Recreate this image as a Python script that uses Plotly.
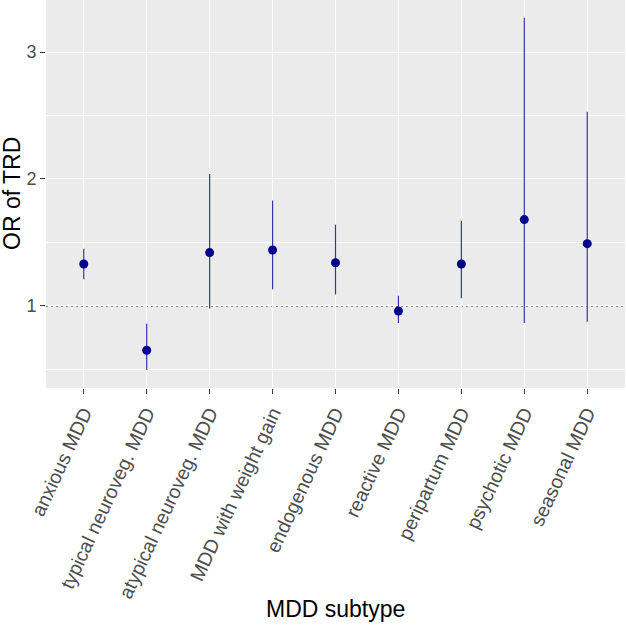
import plotly.graph_objects as go

subtypes = ["anxious MDD", "typical neuroveg. MDD", "atypical neuroveg. MDD",
            "MDD with weight gain", "endogenous MDD", "reactive MDD",
            "peripartum MDD", "psychotic MDD", "seasonal MDD"]
or_est = [1.33, 0.65, 1.42, 1.44, 1.34, 0.96, 1.33, 1.68, 1.49]
ci_low = [1.21, 0.495, 0.98, 1.13, 1.09, 0.865, 1.06, 0.865, 0.875]
ci_high = [1.45, 0.86, 2.04, 1.83, 1.64, 1.08, 1.67, 3.27, 2.53]

err_plus = [h - e for h, e in zip(ci_high, or_est)]
err_minus = [e - l for e, l in zip(or_est, ci_low)]

FONT = "Liberation Sans, Arial, Helvetica, sans-serif"

fig = go.Figure()
fig.add_hline(y=1, line=dict(color="#222222", width=1.2, dash="2px,3px"), layer="below")
fig.add_trace(go.Scatter(
    x=subtypes, y=or_est, mode="markers",
    marker=dict(color="#00008B", size=9),
    error_y=dict(type="data", symmetric=False, array=err_plus, arrayminus=err_minus,
                 color="#3535A8", thickness=1.2, width=0),
    showlegend=False, hoverinfo="skip",
))

tickfont = dict(family=FONT, size=19.5, color="#4D4D4D")

fig.update_layout(
    width=626, height=625,
    margin=dict(l=46, r=1, t=0, b=237, autoexpand=False),
    paper_bgcolor="white", plot_bgcolor="#EBEBEB",
    xaxis=dict(
        range=[-0.6, 8.6], showgrid=True, gridcolor="white", gridwidth=1.2,
        tickangle=-65, tickfont=tickfont, ticks="outside", ticklen=5,
        tickcolor="#333333", tickwidth=1, zeroline=False, showline=False,
        automargin=False,
    ),
    yaxis=dict(
        range=[0.353, 3.41], tick0=0, dtick=1, showgrid=True, gridcolor="white",
        gridwidth=1.2, tickfont=dict(family=FONT, size=18, color="#4D4D4D"),
        ticks="outside", ticklen=5,
        tickcolor="#333333", tickwidth=1, zeroline=False, showline=False,
        minor=dict(dtick=0.5, tick0=0, showgrid=True, gridcolor="white", gridwidth=0.6),
        automargin=False,
    ),
    annotations=[
        dict(text="MDD subtype", xref="paper", yref="paper", x=0.5, y=-(609 - 388) / 388,
             xanchor="center", yanchor="middle", showarrow=False,
             font=dict(family=FONT, size=23, color="#000000")),
        dict(text="OR of TRD", xref="paper", yref="paper", x=(12 - 46) / 579, y=0.5,
             xanchor="center", yanchor="middle", textangle=-90, showarrow=False,
             font=dict(family=FONT, size=23, color="#000000")),
    ],
)

fig.write_html("out.html", config={"displayModeBar": False},
               post_script="document.body.style.margin='0';")
